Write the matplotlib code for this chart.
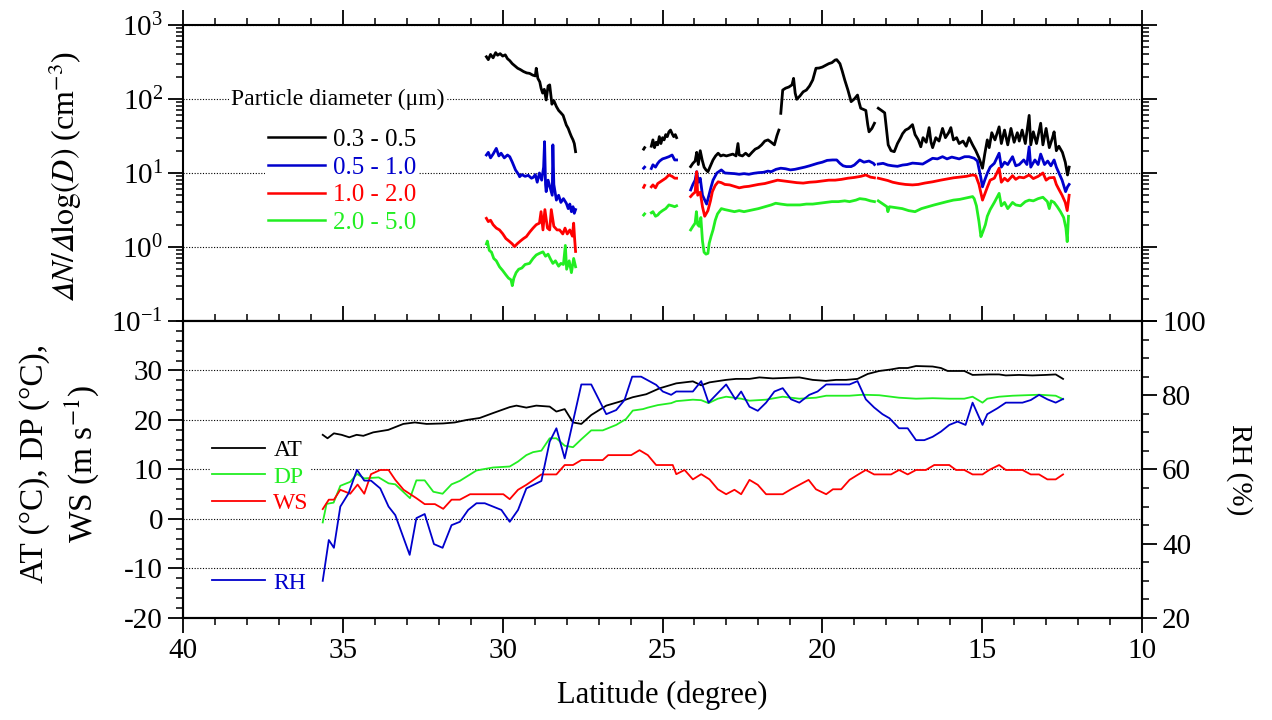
import numpy as np
import matplotlib
matplotlib.use('Agg')
import matplotlib.pyplot as plt
from matplotlib.ticker import MultipleLocator, LogLocator, NullFormatter

plt.rcParams['font.family'] = ['Liberation Serif', 'DejaVu Serif']
plt.rcParams['mathtext.fontset'] = 'stix'
plt.rcParams['axes.unicode_minus'] = False

nan = np.nan

# ---- particle number size distribution (top panel) ----
lat_03 = [30.51, 30.45, 30.38, 30.30, 30.22, 30.16, 30.08, 30.00, 29.92, 29.85, 29.78, 29.70, 29.62, 29.53,
          29.45, 29.35, 29.25, 29.16, 29.06, 28.98, 28.95, 28.90, 28.84, 28.80, 28.75, 28.70, 28.64, 28.58,
          28.53, 28.46, 28.40, 28.32, 28.25, 28.18, 28.11, 28.05, 28.01, 27.95, 27.90, 27.85, 27.80, 27.76, 27.72,
          nan,
          25.59, 25.56, nan,
          25.35, 25.30, 25.25, 25.20, 25.15, 25.10, 25.05, 25.00, 24.95, 24.90, 24.85, 24.80, 24.75, 24.70,
          24.65, 24.60, 24.56,
          nan,
          24.12, 24.05, 23.98, 23.93, 23.88, 23.82, 23.76, 23.70, 23.64, 23.58, 23.50, 23.42, 23.34, 23.26,
          23.18, 23.10, 23.00, 22.90, 22.80, 22.70, 22.64, 22.60, 22.50, 22.40, 22.30, 22.20, 22.10, 22.00,
          21.90, 21.80, 21.70, 21.60, 21.50, 21.42, 21.36,
          nan,
          21.30, 21.24, 21.15, 21.05, 20.95, 20.90, 20.85, 20.80, 20.70, 20.60, 20.50, 20.40, 20.30, 20.20,
          20.10, 20.00, 19.90, 19.80, 19.70, 19.60, 19.55, 19.45, 19.38, 19.30, 19.20, 19.10, 19.00, 18.90,
          18.85, 18.80, 18.70, 18.64, 18.58, 18.54, 18.45, 18.37,
          nan,
          18.25, 18.15, 18.05, 17.98, 17.94, 17.85, 17.75, 17.65, 17.55, 17.49, 17.40, 17.30, 17.18, 17.10,
          17.00, 16.92, 16.85, 16.75, 16.66, 16.60, 16.55, 16.45, 16.35, 16.24, 16.15, 16.05, 15.98, 15.90,
          15.80, 15.72, 15.60, 15.50, 15.41, 15.30, 15.20, 15.10, 14.99, 14.92, 14.84, 14.78, 14.70, 14.60,
          14.47, 14.40, 14.30, 14.20, 14.10, 14.00, 13.90, 13.84, 13.75, 13.65, 13.53, 13.48, 13.40, 13.30,
          13.17, 13.10, 13.00, 12.90, 12.80, 12.75, 12.68, 12.60, 12.49, 12.40, 12.33, 12.28]
n_03 = [372, 340, 400, 360, 423, 390, 410, 380, 395, 350, 330, 300, 280, 260,
        250, 235, 225, 222, 210, 205, 260, 190, 170, 140, 120, 135, 97, 150,
        155, 85, 95, 79, 70, 65, 60, 50, 44.5, 40, 35, 31, 28, 25, 19.4,
        nan,
        21, 22, nan,
        23, 28, 22, 26, 24, 31, 25, 30, 28, 33, 31, 36, 38, 34,
        31, 33, 30,
        nan,
        12.2, 13.5, 14.5, 19, 13, 20, 15, 12, 11, 10.4, 12.5, 15, 17, 18.5,
        17, 17.5, 17, 17.5, 18, 17, 25, 17.5, 17, 18.5, 17, 19, 21, 22,
        24, 27, 28, 26, 24, 32, 38,
        nan,
        64, 132, 140, 145, 155, 190, 120, 99, 110, 125, 132, 150, 181, 260,
        262, 270, 285, 300, 310, 336, 340, 300, 240, 181, 132, 92, 100, 113,
        90, 75, 72, 70, 45, 36, 40, 47,
        nan,
        75, 70, 65, 35, 24, 20, 19.4, 25, 30, 34, 38, 40, 45, 33,
        28, 22.6, 30, 26, 41, 26, 22, 30, 27, 40, 30, 35, 41, 28,
        30, 25, 27, 23, 30, 24, 20, 16, 11.6, 18, 28, 22, 35, 28,
        42, 25, 38, 24, 40, 26, 35, 27, 38, 25, 60, 24, 36, 25,
        47, 24, 40, 22, 30, 36, 20, 23, 19, 14, 9.4, 12]

lat_05 = [30.51, 30.45, 30.38, 30.30, 30.20, 30.12, 30.05, 29.95, 29.85, 29.78, 29.70, 29.60, 29.50, 29.47,
          29.40, 29.30, 29.20, 29.10, 29.05, 28.98, 28.92, 28.85, 28.78, 28.72, 28.69, 28.66, 28.64, 28.58,
          28.50, 28.45, 28.43, 28.40, 28.32, 28.25, 28.18, 28.10, 28.01, 27.95, 27.90, 27.85, 27.80, 27.76, 27.72,
          nan,
          25.59, 25.56, nan,
          25.35, 25.30, 25.22, 25.15, 25.09, 25.00, 24.90, 24.80, 24.70, 24.62, 24.56,
          nan,
          24.12, 24.05, 23.98, 23.93, 23.88, 23.82, 23.75, 23.68, 23.62, 23.55, 23.48, 23.42, 23.30, 23.16,
          23.05, 22.90, 22.75, 22.60, 22.45, 22.30, 22.15, 22.00, 21.85, 21.70, 21.60, 21.45, 21.30, 21.15,
          21.00, 20.86, 20.70, 20.55, 20.40, 20.30, 20.15, 20.00, 19.85, 19.68, 19.55, 19.45, 19.35, 19.25,
          19.10, 19.00, 18.83, 18.70, 18.54, 18.40, 18.37,
          nan,
          18.25, 18.10, 17.95, 17.80, 17.65, 17.49, 17.35, 17.18, 17.00, 16.86, 16.70, 16.55, 16.40, 16.24,
          16.10, 15.95, 15.80, 15.72, 15.55, 15.41, 15.25, 15.15, 15.05, 14.99, 14.92, 14.84, 14.75, 14.62,
          14.47, 14.40, 14.30, 14.20, 14.05, 13.95, 13.84, 13.70, 13.60, 13.53, 13.48, 13.35, 13.25, 13.17,
          13.05, 12.95, 12.85, 12.75, 12.68, 12.60, 12.50, 12.39, 12.33, 12.28]
n_05 = [17.5, 19, 16, 18, 21.5, 17, 18.5, 16, 17.5, 16.6, 14, 11, 9.5, 8.9,
        9.5, 9, 9.3, 8.5, 8.7, 9.5, 7.5, 10, 8, 12, 26.5, 7, 5.6, 8,
        6, 5, 24, 7, 4.3, 5, 4, 4.5, 3.9, 3.3, 3.8, 3.0, 3.5, 2.85, 3.2,
        nan,
        11.6, 12, nan,
        11.5, 12.9, 12, 13.5, 14.5, 15.5, 16, 16.6, 17.5, 15, 15,
        nan,
        5.9, 7, 8, 10.4, 7.5, 8.5, 5, 4.3, 3.8, 5, 6.5, 8, 10, 11,
        10, 9.9, 9.8, 9.6, 9.8, 9.6, 9.9, 10.1, 10.2, 10.6, 10.4, 11.2, 11.6, 11.4,
        11, 11.2, 11.6, 12, 12.5, 12.9, 13.5, 14, 14.8, 15, 15, 13.5, 12.5, 12.2,
        12.2, 12.8, 15, 14, 14.5, 13.5, 13,
        nan,
        13.2, 13.5, 12.8, 12.5, 12.3, 12.8, 13, 13.6, 13.4, 13.2, 14.5, 15.8, 15.5, 16.6,
        15.5, 16.4, 15.8, 15.5, 16.6, 16.6, 15.8, 14.5, 9, 6.5, 8, 9.9, 12, 13.5,
        18.5, 12, 14, 13, 16.6, 12.5, 13, 15, 13, 22.6, 12, 15, 13, 18,
        13, 14.5, 12.5, 15, 12, 10, 8, 5.6, 6.5, 7]

lat_10 = [30.51, 30.45, 30.38, 30.30, 30.20, 30.10, 30.00, 29.90, 29.80, 29.70, 29.63, 29.55, 29.45, 29.35,
          29.26, 29.15, 29.05, 28.95, 28.85, 28.80, 28.74, 28.68, 28.60, 28.53, 28.48, 28.40, 28.30, 28.22,
          28.12, 28.05, 27.98, 27.90, 27.82, 27.78, 27.75, 27.72,
          nan,
          25.59, 25.56, nan,
          25.35, 25.30, 25.22, 25.15, 25.09, 25.00, 24.90, 24.80, 24.70, 24.62, 24.56,
          nan,
          24.12, 24.05, 23.98, 23.93, 23.90, 23.82, 23.75, 23.68, 23.62, 23.58, 23.50, 23.44, 23.35, 23.26,
          23.16, 23.05, 22.90, 22.75, 22.60, 22.45, 22.30, 22.15, 22.00, 21.80, 21.60, 21.40, 21.20, 21.00,
          20.80, 20.60, 20.40, 20.20, 20.00, 19.80, 19.60, 19.40, 19.20, 19.00, 18.80, 18.64, 18.50, 18.37,
          nan,
          18.25, 18.10, 17.95, 17.80, 17.60, 17.40, 17.18, 17.00, 16.80, 16.55, 16.30, 16.10, 15.90, 15.70,
          15.50, 15.30, 15.20, 15.10, 14.99, 14.92, 14.84, 14.75, 14.62, 14.47, 14.40, 14.30, 14.20, 14.05,
          13.95, 13.84, 13.70, 13.53, 13.40, 13.25, 13.10, 13.00, 12.90, 12.75, 12.68, 12.60, 12.50, 12.40,
          12.34, 12.28]
n_10 = [2.44, 2.2, 2.3, 2.0, 1.8, 1.7, 1.51, 1.3, 1.2, 1.1, 1.01, 1.1, 1.2, 1.3,
        1.38, 1.6, 1.8, 2.0, 2.1, 3.0, 1.7, 3.2, 1.8, 1.7, 3.2, 1.9, 1.7, 1.7,
        1.5, 1.8, 1.5, 1.7, 1.4, 2.1, 1.3, 0.87,
        nan,
        6.4, 6.8, nan,
        6.5, 6.9, 6.3, 7.2, 7.5, 8, 8.5, 9.4, 9.0, 8.5, 8.5,
        nan,
        4.8, 5.2, 5.5, 10.4, 5, 5.5, 3.5, 2.6, 2.9, 3.1, 4.2, 5.6, 6.8, 7.6,
        7.4, 7.0, 6.9, 6.6, 6.3, 6.5, 6.6, 6.8, 7.0, 7.2, 7.6, 8.0, 7.8, 7.6,
        7.4, 7.3, 7.5, 7.6, 7.8, 8.0, 8.0, 8.2, 8.5, 8.7, 9.0, 9.4, 8.8, 8.6,
        nan,
        8.5, 8.2, 7.9, 7.5, 7.2, 7.0, 6.9, 7.0, 7.3, 7.6, 8.0, 8.3, 8.6, 8.8,
        9.0, 9.4, 9.2, 7, 4.3, 5.2, 6.4, 8, 8.5, 11.6, 7.5, 8.5, 7.8, 9.2,
        8.2, 8.8, 8.6, 9.4, 8.4, 9.0, 10, 8.0, 8.6, 8.7, 7, 6, 5, 4,
        3.1, 5]

lat_20 = [30.51, 30.48, 30.42, 30.35, 30.28, 30.20, 30.10, 30.00, 29.90, 29.82, 29.74, 29.70, 29.65, 29.58,
          29.50, 29.40, 29.30, 29.16, 29.05, 28.95, 28.85, 28.74, 28.66, 28.58, 28.50, 28.43, 28.35, 28.25,
          28.18, 28.10, 28.04, 28.00, 27.92, 27.85, 27.78, 27.72,
          nan,
          25.59, 25.56, nan,
          25.35, 25.30, 25.22, 25.15, 25.09, 25.00, 24.90, 24.80, 24.70, 24.62, 24.56,
          nan,
          24.12, 24.05, 23.98, 23.94, 23.90, 23.85, 23.80, 23.75, 23.70, 23.64, 23.58, 23.54, 23.48, 23.42,
          23.35, 23.28, 23.16, 23.05, 22.90, 22.75, 22.60, 22.45, 22.30, 22.15, 22.00, 21.80, 21.60, 21.46,
          21.30, 21.10, 20.90, 20.70, 20.50, 20.30, 20.10, 19.90, 19.70, 19.50, 19.30, 19.15, 18.95, 18.83,
          18.65, 18.50, 18.37,
          nan,
          18.25, 18.10, 17.98, 17.95, 17.90, 17.70, 17.50, 17.30, 17.10, 16.90, 16.70, 16.50, 16.30, 16.10,
          15.90, 15.70, 15.50, 15.30, 15.25, 15.18, 15.10, 15.04, 14.98, 14.90, 14.84, 14.75, 14.62, 14.47,
          14.40, 14.30, 14.20, 14.05, 13.95, 13.80, 13.65, 13.53, 13.40, 13.25, 13.10, 12.96, 12.90, 12.84,
          12.75, 12.65, 12.55, 12.45, 12.38, 12.34, 12.30]
n_20 = [1.1, 1.2, 0.9, 0.85, 0.7, 0.65, 0.54, 0.48, 0.42, 0.38, 0.36, 0.30, 0.38, 0.45,
        0.50, 0.52, 0.58, 0.6, 0.7, 0.78, 0.82, 0.86, 0.75, 0.8, 0.68, 0.6, 0.65, 0.55,
        0.6, 0.58, 1.05, 0.5, 0.65, 0.45, 0.7, 0.54,
        nan,
        2.7, 2.8, nan,
        2.9, 3.0, 2.6, 2.7, 2.9, 3.1, 3.3, 3.7, 3.6, 3.5, 3.6,
        nan,
        1.7, 1.9, 2.1, 3.0, 2.0, 1.9, 2.5, 1.2, 0.85, 0.8, 0.82, 1.12, 1.4, 1.7,
        2.3, 2.8, 3.3, 3.2, 3.1, 3.0, 3.1, 3.0, 3.1, 3.2, 3.3, 3.5, 3.7, 3.9,
        3.8, 3.7, 3.7, 3.7, 3.8, 3.8, 3.9, 4.0, 4.1, 4.1, 4.2, 4.1, 4.3, 4.5,
        4.4, 4.2, 4.1,
        nan,
        4.2, 3.8, 3.5, 3.0, 3.5, 3.4, 3.3, 3.1, 3.0, 3.3, 3.5, 3.7, 3.9, 4.1,
        4.3, 4.4, 4.6, 4.8, 4.5, 3.6, 2.2, 1.38, 1.6, 2.0, 2.6, 3.2, 4.0, 5.3,
        3.6, 4.0, 3.3, 4.0, 3.7, 3.6, 4.1, 4.3, 4.2, 4.5, 4.7, 4.1, 3.3, 4.2,
        4.0, 3.5, 3.0, 2.5, 1.8, 1.18, 2.6]

size_labels = ['0.3 - 0.5', '0.5 - 1.0', '1.0 - 2.0', '2.0 - 5.0']

# ---- meteorology (bottom panel) ----
lat_at = [35.63, 35.48, 35.28, 35.04, 34.80, 34.57, 34.36, 34.05, 33.58, 33.11, 32.75, 32.38, 31.86, 31.50,
          31.13, 30.72, 30.30, 29.78, 29.57, 29.26, 28.95, 28.53, 28.32, 28.06, 27.80, 27.54, 27.23, 26.76,
          26.34, 25.93, 25.51, 25.09, 24.57, 24.05, 23.79, 23.53, 23.01, 22.70, 22.28, 21.97, 21.55, 21.14,
          20.72, 20.30, 19.89, 19.57, 19.26, 18.90, 18.58, 18.22, 17.86, 17.60, 17.33, 17.07, 16.55, 16.29,
          16.08, 15.56, 15.30, 14.78, 14.47, 14.26, 13.85, 13.43, 13.01, 12.70, 12.47]
at = [17.0, 16.3, 17.3, 17.0, 16.5, 17.0, 16.8, 17.5, 18.0, 19.2, 19.5, 19.2, 19.3, 19.5,
      20.0, 20.4, 21.4, 22.6, 22.9, 22.5, 22.9, 22.7, 21.7, 22.2, 19.5, 19.2, 21.0, 22.9,
      23.7, 24.6, 25.2, 26.4, 27.4, 27.8, 27.0, 27.6, 28.1, 28.3, 28.3, 28.6, 28.4, 28.5,
      28.6, 28.1, 27.9, 28.1, 28.1, 28.3, 29.3, 29.9, 30.2, 30.5, 30.5, 30.9, 30.8, 30.5,
      29.9, 29.9, 29.1, 29.2, 29.2, 29.0, 29.1, 29.0, 29.1, 29.2, 28.3]

lat_dp = [35.63, 35.51, 35.29, 35.08, 34.77, 34.56, 34.33, 33.88, 33.57, 33.36, 32.90, 32.70, 32.44, 32.17,
          31.88, 31.60, 31.34, 30.82, 30.30, 29.78, 29.52, 29.26, 29.05, 28.79, 28.53, 28.32, 28.06, 27.80,
          27.54, 27.23, 26.87, 26.45, 26.14, 25.93, 25.61, 25.46, 25.15, 24.73, 24.57, 24.05, 23.79, 23.56,
          23.27, 23.01, 22.54, 22.28, 21.76, 21.24, 20.72, 20.20, 19.88, 19.15, 18.74, 18.22, 17.60, 17.07,
          16.55, 16.03, 15.56, 15.30, 14.99, 14.84, 14.47, 14.05, 13.22, 12.70, 12.47]
dp = [-0.7, 3.05, 3.3, 6.7, 7.5, 9.1, 8.2, 8.4, 7.2, 7.0, 4.2, 7.8, 7.8, 5.5,
      5.1, 7.0, 7.7, 9.8, 10.4, 10.6, 11.6, 12.9, 13.5, 13.8, 16.3, 16.3, 14.8, 14.5,
      16.1, 17.9, 17.9, 19.0, 20.2, 21.9, 22.2, 22.5, 23.0, 23.4, 23.8, 24.1, 24.0, 23.4,
      24.3, 24.7, 24.3, 23.9, 24.1, 24.7, 24.3, 24.5, 24.9, 24.9, 25.1, 25.0, 24.5, 24.3,
      24.4, 24.3, 24.3, 24.7, 23.5, 24.3, 24.7, 24.9, 25.1, 24.9, 24.2]

lat_ws = [35.63, 35.44, 35.28, 35.08, 34.77, 34.54, 34.33, 34.12, 33.83, 33.57, 33.36, 33.10, 32.70, 32.44,
          32.12, 31.86, 31.60, 31.34, 31.02, 29.98, 29.78, 29.52, 29.26, 28.79, 28.32, 28.06, 27.80, 27.54,
          26.87, 26.70, 25.98, 25.72, 25.46, 25.20, 24.68, 24.57, 24.31, 24.05, 23.79, 23.53, 23.27, 23.01,
          22.75, 22.54, 22.28, 22.02, 21.76, 21.24, 20.98, 20.72, 20.43, 20.20, 19.88, 19.67, 19.41, 19.15,
          18.90, 18.64, 18.38, 17.85, 17.60, 17.33, 17.07, 16.76, 16.50, 16.03, 15.82, 15.56, 15.30, 14.99,
          14.78, 14.47, 14.26, 13.74, 13.48, 13.22, 12.96, 12.70, 12.47]
ws = [2.0, 3.9, 3.9, 5.9, 5.1, 6.95, 5.1, 9.05, 9.9, 9.9, 7.9, 5.9, 4.2, 3.0,
      3.0, 2.05, 3.9, 3.9, 5.0, 5.0, 4.0, 5.9, 6.9, 9.0, 9.0, 10.9, 10.9, 11.9,
      11.9, 12.9, 12.9, 13.9, 12.9, 10.9, 10.9, 9.05, 9.9, 8.0, 9.05, 8.0, 6.0, 5.0,
      5.9, 5.0, 7.9, 6.9, 5.0, 5.0, 6.0, 6.9, 7.9, 6.0, 5.0, 6.0, 6.0, 7.9,
      8.9, 9.9, 9.0, 9.0, 9.9, 9.0, 9.9, 9.9, 10.9, 10.9, 9.9, 9.9, 9.0, 9.0,
      9.9, 10.9, 9.9, 9.9, 9.0, 9.0, 8.0, 8.0, 9.0]

lat_rh = [35.63, 35.44, 35.28, 35.08, 34.82, 34.56, 34.33, 34.12, 33.83, 33.57, 33.36, 32.91, 32.70, 32.44,
          32.15, 31.88, 31.60, 31.34, 31.08, 30.82, 30.56, 30.30, 30.04, 29.78, 29.52, 29.26, 28.79, 28.53,
          28.32, 28.06, 27.54, 27.23, 26.76, 26.45, 26.19, 25.95, 25.67, 25.20, 24.99, 24.73, 24.57, 24.05,
          23.79, 23.56, 23.01, 22.72, 22.54, 22.28, 22.02, 21.76, 21.50, 21.24, 20.98, 20.72, 20.41, 20.15,
          19.88, 19.15, 18.90, 18.64, 18.38, 18.12, 17.90, 17.60, 17.33, 17.07, 16.81, 16.55, 16.29, 16.03,
          15.77, 15.52, 15.30, 14.99, 14.84, 14.52, 14.26, 13.74, 13.48, 13.22, 12.96, 12.70, 12.47]
rh = [30.0, 41.0, 38.9, 50.0, 53.6, 59.9, 57.0, 57.0, 54.9, 50.0, 47.7, 37.0, 46.9, 48.0,
      39.9, 38.9, 45.0, 45.9, 49.1, 50.9, 50.9, 50.0, 49.1, 45.9, 49.1, 54.9, 56.9, 67.5,
      71.1, 63.0, 82.9, 82.9, 74.9, 76.0, 78.7, 85.0, 85.0, 82.8, 81.0, 80.1, 81.0, 81.0,
      83.8, 78.0, 82.9, 78.9, 81.0, 76.9, 75.8, 78.0, 81.0, 81.9, 78.9, 78.0, 80.1, 81.0,
      82.9, 82.9, 83.8, 78.9, 76.7, 74.9, 73.8, 71.1, 71.1, 67.9, 67.9, 68.8, 70.2, 72.0,
      72.9, 72.0, 78.0, 72.0, 74.9, 76.5, 78.0, 78.0, 78.7, 80.1, 78.9, 78.0, 79.0]

c_black, c_blue, c_red, c_green = 'black', '#0000cc', '#ff0000', '#22ee22'

fig = plt.figure(figsize=(12.72, 7.2), dpi=100)
ax1 = fig.add_axes([0.1439, 0.5542, 0.7539, 0.4111])
ax2 = fig.add_axes([0.1439, 0.1417, 0.7539, 0.4125], sharex=ax1)

# top panel
for lat, vals, col, lab in zip([lat_03, lat_05, lat_10, lat_20], [n_03, n_05, n_10, n_20],
                               [c_black, c_blue, c_red, c_green], size_labels):
    ax1.plot(lat, vals, color=col, lw=2.0, label=lab)
ax1.set_yscale('log')
ax1.set_ylim(0.1, 1000)
ax1.set_xlim(40, 10)
ax1.yaxis.set_major_locator(LogLocator(base=10, numticks=10))
ax1.yaxis.set_minor_locator(LogLocator(base=10, subs=np.arange(2, 10), numticks=20))
ax1.yaxis.set_minor_formatter(NullFormatter())
ax1.grid(True, which='major', axis='y', color='black', linestyle=(0, (1, 1.5)), linewidth=0.8)
ax1.set_ylabel(r'$𝛥\mathit{N}/𝛥\mathrm{log}(\mathit{D})$ (cm$^{-3}$)', fontsize=23)
ax1.yaxis.set_label_coords(-0.103, 0.49)

ax1.text(0.161, 0.75, 'Particle diameter (μm)', transform=ax1.transAxes, ha='center', va='center',
         fontsize=17, bbox=dict(facecolor='white', edgecolor='none', pad=1.5), zorder=5)
leg1 = ax1.legend(loc='center left', bbox_to_anchor=(0.0855, 0.472), borderaxespad=0, frameon=True,
                  facecolor='white', edgecolor='none', framealpha=1, fontsize=18, handlelength=2.3,
                  handletextpad=0.3, labelspacing=0.21, borderpad=0.1, labelcolor='linecolor')
for h in leg1.get_lines():
    h.set_linewidth(1.8)

# bottom panel
l_at, = ax2.plot(lat_at, at, color=c_black, lw=1.3, label='AT')
l_dp, = ax2.plot(lat_dp, dp, color=c_green, lw=1.3, label='DP')
l_ws, = ax2.plot(lat_ws, ws, color=c_red, lw=1.3, label='WS')
ax2.set_ylim(-20, 40)
ax2.set_yticks([-20, -10, 0, 10, 20, 30])
ax2.yaxis.set_minor_locator(MultipleLocator(2))
ax2.grid(True, which='major', axis='y', color='black', linestyle=(0, (1, 1.5)), linewidth=0.8)
ax2.set_xlabel('Latitude (degree)', fontsize=22, labelpad=12)
ax2.set_ylabel('AT (°C), DP (°C),\nWS (m s$^{-1}$)', fontsize=24, linespacing=1.4)
ax2.yaxis.set_label_coords(-0.086, 0.52)

ax3 = ax2.twinx()
l_rh, = ax3.plot(lat_rh, rh, color=c_blue, lw=1.3, label='RH')
ax3.set_ylim(20, 100)
ax3.yaxis.set_major_locator(MultipleLocator(20))
ax3.yaxis.set_minor_locator(MultipleLocator(5))
ax3.set_ylabel('RH (%)', fontsize=21, rotation=270, va='center')
ax3.yaxis.set_label_coords(1.102, 0.5)

leg2 = ax2.legend(handles=[l_at, l_dp, l_ws], loc='center left', bbox_to_anchor=(0.0155, 0.475),
                  frameon=True, facecolor='white', edgecolor='none', framealpha=1, fontsize=17,
                  handlelength=2.25, handletextpad=0.35, labelspacing=0.2, borderpad=0.1,
                  labelcolor='linecolor')
leg3 = ax3.legend(handles=[l_rh], loc='center left', bbox_to_anchor=(0.0155, 0.118),
                  frameon=True, facecolor='white', edgecolor='none', framealpha=1, fontsize=17,
                  handlelength=2.25, handletextpad=0.35, borderpad=0.1, labelcolor='linecolor')

ax2.xaxis.set_major_locator(MultipleLocator(5))
ax2.xaxis.set_minor_locator(MultipleLocator(1))

for ax in (ax1, ax2, ax3):
    for sp in ax.spines.values():
        sp.set_linewidth(1.5)
    ax.tick_params(which='major', direction='out', length=11, width=1.3, labelsize=21)
    ax.tick_params(which='minor', direction='out', length=5, width=1.1)
ax1.tick_params(which='both', top=True, right=True, labelbottom=False)
ax2.tick_params(which='both', top=True, right=False)

fig.savefig('out.png', dpi=100)
